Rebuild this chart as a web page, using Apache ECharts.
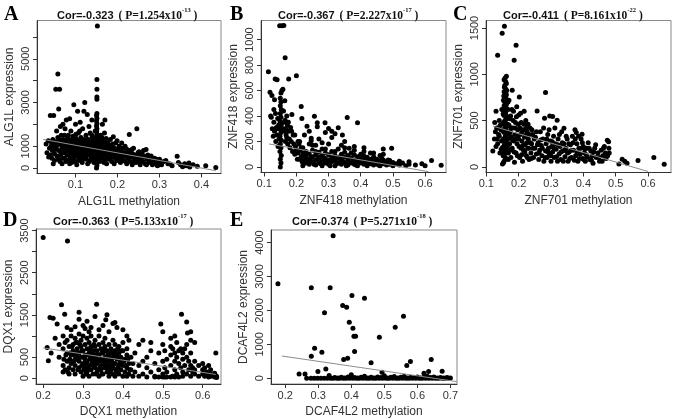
<!DOCTYPE html>
<html><head><meta charset="utf-8">
<script src="https://cdn.jsdelivr.net/npm/echarts@6/dist/echarts.min.js"></script>
<style>html,body{margin:0;padding:0;background:#fff}#c{width:677px;height:419px}</style>
</head><body><div id="c"></div>
<script>
// ---------- DATA ----------
const panelLetters = ['A','B','C','D','E'];
const genes = ['ALG1L','ZNF418','ZNF701','DQX1','DCAF4L2'];
const corValues = ['-0.323','-0.367','-0.411','-0.363','-0.374'];
const pMantissa = ['1.254','2.227','8.161','5.133','5.271'];
const pExponent = ['-13','-17','-22','-17','-18'];

const xTicksA = [0.1,0.2,0.3,0.4];
const yTicksA = [0,1000,2000,3000,4000,5000,6000];
const yLabelsA = [0,1000,3000,5000];
const xTicksB = [0.1,0.2,0.3,0.4,0.5,0.6];
const yTicksB = [0,200,400,600,800,1000];
const xTicksC = [0.1,0.2,0.3,0.4,0.5,0.6];
const yTicksC = [0,500,1000,1500];
const xTicksD = [0.2,0.3,0.4,0.5,0.6];
const yTicksD = [0,500,1000,1500,2000,2500,3000,3500];
const yLabelsD = [0,500,1500,2500,3500];
const xTicksE = [0.2,0.3,0.4,0.5,0.6,0.7];
const yTicksE = [0,1000,2000,3000,4000];

const fitA = [[0.023,1310],[0.434,-120]];
const fitB = [[0.115,180],[0.61,-37]];
const fitC = [[0.12,440],[0.60,-50]];
const fitD = [[0.20,720],[0.633,90]];
const fitE = [[0.19,655],[0.72,-100]];

const pointsA = [
[0.030,1100],[0.032,700],[0.035,1250],[0.038,900],[0.040,600],[0.040,2400],[0.042,1000],[0.044,450],[0.045,800],[0.046,1300],[0.048,2400],[0.048,1000],[0.050,650],[0.050,350],[0.052,1200],[0.053,3600],[0.054,900],[0.055,1700],[0.056,550],[0.058,1400],[0.058,4300],[0.060,2700],[0.062,3600],[0.060,800],[0.062,1100],[0.063,300],[0.064,1900],[0.065,600],[0.066,1500],[0.068,950],[0.068,200],[0.070,1300],[0.070,2000],[0.072,700],[0.073,1100],[0.074,450],[0.075,1800],[0.076,850],[0.078,1250],[0.078,2200],[0.080,600],[0.080,1000],[0.082,350],[0.083,1500],[0.084,800],[0.085,1150],[0.086,2250],[0.087,500],[0.088,950],[0.089,1700],[0.090,700],[0.090,1300],[0.091,250],[0.092,1050],[0.093,600],[0.094,1450],[0.095,850],[0.096,2900],[0.097,400],[0.098,1150],[0.099,750],[0.100,2000],[0.100,1000],[0.101,550],[0.102,1350],[0.103,150],[0.104,900],[0.105,1200],[0.105,2600],[0.106,650],[0.107,1600],[0.108,1000],[0.109,450],[0.110,1250],[0.110,800],[0.111,2100],[0.112,600],[0.113,1400],[0.114,950],[0.115,350],[0.116,1100],[0.117,1800],[0.118,750],[0.119,500],[0.120,1300],[0.120,2600],[0.121,900],[0.122,3000],[0.123,650],[0.124,1150],[0.125,1500],[0.126,400],[0.127,850],[0.128,2450],[0.128,1050],[0.129,600],[0.130,1300],[0.131,750],[0.132,1900],[0.133,300],[0.134,1000],[0.135,1600],[0.136,550],[0.137,1200],[0.138,850],[0.139,2200],[0.140,700],[0.140,1400],[0.141,450],[0.142,1050],[0.143,900],[0.144,250],[0.145,1250],[0.146,650],[0.147,1700],[0.148,800],
[0.150,0],[0.151,120],[0.150,240],[0.151,360],[0.150,480],[0.151,600],[0.150,720],[0.151,840],[0.150,960],[0.151,1080],[0.150,1200],[0.151,1320],[0.150,1440],[0.151,1560],[0.150,1680],[0.151,1800],[0.150,1920],[0.151,2040],[0.150,2160],[0.151,2280],[0.150,2400],[0.151,2500],[0.151,3150],[0.151,3250],[0.151,3600],[0.151,4050],[0.152,6500],
[0.155,1000],[0.156,600],[0.157,1300],[0.158,300],[0.159,850],[0.160,1500],[0.161,700],[0.162,1100],[0.163,450],[0.164,2000],[0.165,900],[0.166,1250],[0.167,550],[0.168,800],[0.169,1600],[0.170,2200],[0.170,350],[0.171,1000],[0.172,700],[0.173,1350],[0.174,200],[0.175,900],[0.176,550],[0.177,1150],[0.178,750],[0.180,400],[0.181,1050],[0.182,650],[0.183,1300],[0.185,850],[0.186,300],[0.187,1000],[0.188,550],[0.190,1430],[0.190,750],[0.192,200],[0.193,900],[0.195,450],[0.196,1150],[0.197,650],[0.199,1250],[0.200,850],
[0.202,400],[0.204,1000],[0.205,650],[0.207,250],[0.208,800],[0.210,1150],[0.212,500],[0.213,900],[0.215,350],[0.217,700],[0.218,1000],[0.220,550],[0.222,200],[0.223,850],[0.225,450],[0.227,650],[0.228,1540],[0.230,300],[0.231,800],[0.233,500],[0.235,150],[0.236,650],[0.238,900],[0.240,400],[0.242,600],[0.244,250],[0.246,1800],[0.247,500],[0.249,700],[0.250,350],[0.252,550],[0.254,150],[0.256,450],[0.258,650],[0.260,300],[0.262,800],[0.264,500],[0.266,200],[0.268,850],[0.270,400],[0.272,600],[0.275,250],[0.277,350],[0.280,550],[0.283,150],[0.285,300],[0.288,450],[0.290,200],[0.292,350],[0.295,100],[0.297,250],
[0.300,400],[0.305,150],[0.310,300],[0.320,200],[0.342,540],[0.330,100],[0.345,250],[0.360,200],[0.365,100],[0.370,230],[0.372,50],[0.380,150],[0.390,80],[0.410,100],[0.434,20],
[0.036,500],[0.043,1150],[0.047,200],[0.051,850],[0.057,1050],[0.059,400],[0.061,1300],[0.064,750],[0.067,1150],[0.069,450],[0.071,900],[0.074,1500],[0.077,300],[0.079,650],[0.081,1350],[0.084,1050],[0.086,200],[0.088,600],[0.091,1150],[0.093,400],[0.095,1250],[0.097,900],[0.099,300],[0.101,1550],[0.103,700],[0.106,1050],[0.108,350],[0.110,1700],[0.112,950],[0.114,650],[0.116,250],[0.118,1250],[0.121,450],[0.123,1000],[0.125,750],[0.127,1300],[0.129,200],[0.131,1100],[0.133,650],[0.135,900],[0.137,400],[0.139,1500],[0.141,800],[0.143,1150],[0.145,500],[0.147,1000],[0.149,300],[0.154,750],[0.156,1200],[0.158,450],[0.161,950],[0.163,1400],[0.166,650],[0.168,250],[0.171,1200],[0.173,500],[0.176,1000],[0.179,600],[0.182,900],[0.184,450],[0.187,750],[0.189,1100],[0.191,550],[0.194,800],[0.198,350],[0.201,600],[0.206,900],[0.209,450],[0.214,700],[0.219,300],[0.224,650],[0.229,500],[0.234,850],[0.239,250],[0.245,550],[0.251,750],[0.257,300],[0.263,550],[0.269,150],[0.274,450],[0.281,350],[0.287,250],[0.293,400],[0.299,150],[0.306,250],[0.315,350],[0.325,180],[0.350,150],[0.355,60],[0.362,120]
];

const pointsB = [
[0.150,0],[0.152,30],[0.150,60],[0.153,90],[0.149,120],[0.152,150],[0.150,180],[0.153,210],[0.149,240],[0.152,270],[0.150,300],[0.153,330],[0.149,360],[0.152,390],[0.150,420],[0.153,450],[0.150,480],[0.152,510],[0.150,540],[0.152,580],[0.155,600],[0.158,610],[0.148,1108],[0.155,1108],[0.161,1111],
[0.113,747],[0.118,587],[0.124,560],[0.132,527],[0.134,690],[0.140,685],[0.120,400],[0.122,390],[0.125,300],[0.128,240],[0.130,350],[0.132,280],[0.135,420],[0.136,200],[0.138,310],[0.140,250],[0.142,380],[0.143,160],[0.145,330],[0.146,220],[0.160,440],[0.162,350],[0.163,280],[0.164,520],[0.165,858],[0.165,367],[0.166,200],[0.167,300],[0.168,250],[0.170,400],[0.172,330],[0.173,180],[0.175,280],[0.176,690],[0.178,220],[0.180,150],[0.182,310],[0.184,200],[0.186,411],[0.188,120],[0.190,250],[0.192,180],[0.195,100],[0.197,160],[0.200,716],[0.200,130],[0.203,60],[0.205,110],[0.208,180],[0.210,60],[0.212,130],[0.215,475],[0.215,80],[0.217,380],[0.218,40],[0.220,110],
[0.210,200],[0.225,250],[0.240,280],[0.250,170],[0.270,220],[0.280,190],[0.310,280],[0.340,170],
[0.220,10],[0.220,50],[0.220,90],[0.220,150],[0.230,30],[0.230,70],[0.230,120],[0.233,320],[0.240,20],[0.240,60],[0.240,100],[0.240,180],[0.246,225],[0.246,205],[0.250,40],[0.250,80],[0.250,130],[0.256,398],[0.260,15],[0.260,55],[0.260,95],[0.260,170],[0.265,346],[0.265,315],[0.270,35],[0.270,75],[0.270,115],[0.280,10],[0.280,50],[0.280,90],[0.280,140],[0.289,346],[0.290,30],[0.290,65],[0.290,110],[0.290,270],[0.300,20],[0.300,55],[0.300,95],[0.300,302],[0.300,180],[0.310,40],[0.310,75],[0.310,120],[0.310,230],[0.320,10],[0.320,50],[0.320,90],[0.320,260],[0.330,30],[0.330,65],[0.330,307],[0.330,140],[0.340,20],[0.340,55],[0.340,100],[0.343,250],[0.350,35],[0.350,75],[0.350,115],[0.350,200],[0.358,388],[0.360,15],[0.360,50],[0.360,90],[0.364,147],[0.370,30],[0.370,70],[0.370,110],[0.380,20],[0.380,55],[0.380,95],[0.380,130],[0.390,10],[0.390,40],[0.390,80],[0.390,346],[0.400,30],[0.400,65],[0.400,100],[0.410,20],[0.410,50],[0.410,85],[0.410,120],[0.420,10],[0.420,40],[0.420,75],[0.430,25],[0.430,60],[0.430,110],[0.440,15],[0.440,45],[0.440,80],[0.450,30],[0.450,60],[0.460,10],[0.460,45],[0.460,90],[0.470,25],[0.470,55],[0.470,140],[0.480,15],[0.480,40],[0.490,20],[0.490,50],[0.496,147],[0.500,10],[0.500,35],[0.510,25],[0.520,15],[0.520,45],[0.530,30],[0.540,10],[0.550,40],[0.550,20],[0.570,15],[0.590,25],[0.600,10],[0.620,50],[0.650,12],
[0.225,30],[0.235,50],[0.245,70],[0.255,20],[0.265,60],[0.275,25],[0.285,70],[0.295,40],[0.305,10],[0.315,60],[0.325,25],[0.335,80],[0.345,40],[0.355,10],[0.365,70],[0.375,45],[0.385,15],[0.395,60],[0.405,35],[0.415,70],[0.425,45],[0.435,30],[0.445,60],[0.455,15],[0.465,70],[0.475,35],[0.485,55],[0.230,95],[0.260,120],[0.290,140],[0.320,120],[0.350,150],[0.380,160],[0.410,150],[0.440,110],[0.470,100],[0.215,150],[0.205,200],[0.195,250],[0.185,280],[0.175,350],[0.170,230],[0.160,300],[0.140,300],[0.130,450]
];

const pointsC = [
[0.150,30],[0.155,60],[0.160,90],[0.152,120],[0.158,150],[0.163,180],[0.150,210],[0.156,240],[0.161,270],[0.153,300],[0.159,330],[0.164,360],[0.151,390],[0.157,420],[0.162,450],[0.154,480],[0.160,510],[0.165,540],[0.152,570],[0.158,600],[0.163,630],[0.155,660],[0.160,690],[0.153,720],[0.158,750],[0.162,780],[0.155,810],[0.160,840],[0.157,880],[0.160,920],[0.158,960],[0.162,980],[0.156,1520],[0.149,1442],[0.192,1313],[0.135,1205],[0.186,1151],
[0.120,170],[0.125,300],[0.130,600],[0.132,420],[0.135,250],[0.138,350],[0.140,500],[0.142,150],[0.145,400],[0.147,280],[0.148,620],[0.166,300],[0.168,150],[0.170,450],[0.170,720],[0.172,250],[0.174,380],[0.175,550],[0.176,100],[0.178,320],[0.180,827],[0.180,200],[0.182,420],[0.184,600],[0.185,280],[0.187,50],[0.188,350],[0.190,480],[0.192,150],[0.194,650],[0.195,250],[0.197,400],[0.200,300],[0.200,560],[0.202,755],[0.203,100],[0.205,350],[0.207,200],[0.208,480],[0.210,280],[0.212,60],[0.214,400],[0.215,180],[0.217,600],[0.218,320],[0.220,240],[0.222,500],[0.224,120],[0.226,380],[0.228,200],[0.230,300],[0.232,80],[0.235,420],[0.238,150],[0.240,250],[0.243,350],[0.246,100],
[0.250,200],[0.252,320],[0.255,140],[0.257,604],[0.260,260],[0.262,80],[0.265,180],[0.267,380],[0.270,230],[0.272,120],[0.275,300],[0.278,60],[0.280,525],[0.283,802],[0.283,170],[0.285,250],[0.288,100],[0.290,350],[0.292,200],[0.295,140],[0.296,550],[0.298,280],[0.300,60],[0.302,220],[0.305,543],[0.305,160],[0.308,330],[0.310,100],[0.313,250],[0.316,190],[0.319,503],[0.320,60],[0.322,300],[0.325,140],[0.328,220],[0.330,80],[0.333,380],[0.336,170],[0.340,417],[0.340,250],[0.343,110],[0.346,200],[0.350,300],[0.353,60],[0.356,160],[0.360,240],[0.363,100],[0.366,330],[0.370,180],[0.374,400],[0.376,120],[0.378,370],[0.380,250],[0.383,60],[0.386,200],[0.390,140],[0.393,300],[0.396,352],[0.398,90],[0.400,220],[0.403,150],[0.406,60],[0.410,201],[0.412,110],[0.415,260],[0.420,80],[0.423,170],[0.427,120],[0.430,40],[0.435,200],[0.440,100],[0.445,150],[0.450,60],[0.455,180],[0.460,120],[0.465,220],[0.470,90],[0.474,288],[0.478,270],[0.480,150],[0.510,30],[0.520,83],[0.528,60],[0.535,40],[0.569,68],[0.618,100],[0.650,29],
[0.153,45],[0.158,105],[0.151,165],[0.160,195],[0.155,225],[0.163,255],[0.152,285],[0.158,315],[0.161,345],[0.154,375],[0.159,405],[0.164,435],[0.151,465],[0.157,495],[0.162,525],[0.155,555],[0.160,585],[0.153,615],[0.158,645],[0.162,675],[0.156,705],[0.161,735],[0.154,765],[0.159,795],[0.163,825],[0.156,860],[0.162,900],[0.155,940],[0.166,460],[0.167,620],[0.168,380],[0.166,220],[0.167,700],[0.168,80],
[0.171,350],[0.173,520],[0.175,180],[0.177,420],[0.179,620],[0.181,290],[0.183,500],[0.186,160],[0.189,420],[0.191,300],[0.193,540],[0.196,120],[0.198,340],[0.199,460],[0.201,220],[0.204,420],[0.206,580],[0.209,130],[0.211,380],[0.213,230],[0.216,460],[0.219,160],[0.221,340],[0.223,420],[0.225,260],[0.227,100],[0.229,460],[0.231,200],[0.233,350],[0.236,260],[0.239,90],[0.241,400],[0.244,200],[0.248,300],[0.140,330],[0.143,450],[0.146,190],[0.137,420],[0.133,300],[0.128,380],[0.130,220],[0.126,480],
[0.255,380],[0.258,240],[0.263,150],[0.268,290],[0.273,200],[0.277,420],[0.282,100],[0.287,300],[0.291,160],[0.294,400],[0.299,120],[0.304,270],[0.309,200],[0.312,420],[0.317,110],[0.321,240],[0.326,350],[0.331,160],[0.335,260],[0.338,60],[0.342,180],[0.347,330],[0.351,150],[0.355,250],[0.358,90],[0.362,180],[0.368,260],[0.372,70],[0.375,300],[0.381,150],[0.385,330],[0.388,90],[0.392,200],[0.397,260],[0.401,80],[0.405,190],[0.409,130],[0.418,200],[0.425,70],[0.432,160],[0.438,240],[0.448,100],[0.458,60],[0.462,200],[0.468,150],[0.475,120],[0.479,200]
];

const pointsD = [
[0.200,3337],[0.261,3250],
[0.217,1440],[0.225,1424],[0.235,1283],[0.246,1739],[0.254,1519],[0.260,1200],[0.270,1150],[0.280,1220],[0.290,1566],[0.290,1400],[0.300,1250],[0.305,1180],[0.310,1350],[0.315,1100],[0.320,1200],[0.330,1464],[0.334,1755],[0.340,1150],[0.350,1250],[0.357,1385],[0.360,1503],[0.365,1100],[0.375,1300],[0.380,1322],[0.385,1200],[0.400,1150],[0.410,1000],[0.450,900],[0.470,850],[0.495,1283],[0.500,1100],[0.520,950],[0.530,1000],[0.547,1519],[0.560,1330],[0.562,1070],[0.570,900],[0.580,850],[0.633,598],
[0.210,730],[0.213,417],[0.220,600],[0.230,950],[0.240,800],[0.240,500],[0.250,1000],[0.250,700],[0.250,300],[0.250,150],[0.255,850],[0.255,200],[0.260,600],[0.260,400],[0.260,900],[0.265,750],[0.265,250],[0.265,100],[0.270,1000],[0.270,550],[0.270,350],[0.275,800],[0.275,200],[0.275,650],[0.280,450],[0.280,950],[0.280,100],[0.280,300],[0.285,700],[0.285,550],[0.285,850],[0.290,250],[0.290,1050],[0.290,400],[0.290,600],[0.295,150],[0.295,750],[0.295,500],[0.295,900],[0.300,350],[0.300,650],[0.300,50],[0.300,1000],[0.305,800],[0.305,450],[0.305,250],[0.305,550],[0.310,150],[0.310,700],[0.310,950],[0.310,400],[0.315,600],[0.315,300],[0.315,850],[0.315,50],[0.320,500],[0.320,200],[0.320,750],[0.320,1000],[0.325,400],[0.325,650],[0.325,100],[0.325,300],[0.330,900],[0.330,550],[0.330,250],[0.330,750],[0.335,450],[0.335,150],[0.335,650],[0.335,350],[0.340,800],[0.340,50],[0.340,550],[0.340,1000],[0.345,300],[0.345,700],[0.345,450],[0.345,200],[0.350,600],[0.350,100],[0.350,850],[0.350,400],[0.355,250],[0.355,500],[0.355,750],[0.355,950],[0.360,350],[0.360,650],[0.360,150],[0.360,450],[0.365,550],[0.365,50],[0.365,800],[0.365,300],[0.370,400],[0.370,700],[0.370,200],[0.370,600],[0.375,100],[0.375,900],[0.375,500],[0.375,250],[0.380,650],[0.380,350],[0.380,800],[0.380,50],[0.385,450],[0.385,150],[0.385,550],[0.390,300],[0.390,750],[0.390,100],[0.390,600],[0.395,400],[0.395,200],[0.395,500],[0.400,850],[0.400,50],[0.400,650],[0.400,300],[0.405,150],[0.405,450],[0.410,700],[0.410,250],[0.410,550],[0.410,50],[0.415,350],[0.415,100],[0.415,900],[0.420,500],[0.420,200],[0.425,50],[0.425,350],[0.430,150],[0.430,600],[0.440,50],[0.440,300],[0.440,800],[0.450,100],[0.450,400],[0.460,30],[0.460,250],[0.460,500],[0.470,150],[0.470,650],[0.480,30],[0.480,350],[0.480,50],[0.490,30],[0.490,200],[0.490,600],[0.500,30],[0.500,400],[0.500,100],[0.500,800],[0.505,30],[0.505,650],[0.505,250],[0.510,30],[0.510,450],[0.510,150],[0.520,30],[0.520,550],[0.520,300],[0.520,750],[0.525,50],[0.525,700],[0.530,30],[0.530,200],[0.530,600],[0.530,400],[0.535,100],[0.535,500],[0.535,850],[0.540,30],[0.540,350],[0.540,650],[0.545,250],[0.545,700],[0.550,50],[0.550,450],[0.550,150],[0.550,600],[0.555,300],[0.555,700],[0.560,100],[0.560,500],[0.560,800],[0.565,200],[0.565,400],[0.570,50],[0.570,300],[0.570,600],[0.570,1100],[0.575,250],[0.575,150],[0.580,400],[0.580,100],[0.580,200],[0.590,300],[0.590,50],[0.600,200],[0.600,100],[0.600,350],[0.605,50],[0.605,250],[0.610,150],[0.610,80],[0.615,30],[0.615,300],[0.620,100],[0.620,50],[0.620,200],[0.625,60],[0.630,30],[0.630,120],[0.635,50],[0.635,20],
[0.252,450],[0.257,550],[0.262,150],[0.267,450],[0.272,750],[0.277,400],[0.282,600],[0.287,200],[0.292,800],[0.297,300],[0.302,500],[0.307,100],[0.312,550],[0.317,450],[0.322,350],[0.327,800],[0.332,100],[0.337,550],[0.342,250],[0.347,600],[0.352,300],[0.357,400],[0.362,550],[0.367,150],[0.372,450],[0.377,350],[0.382,550],[0.387,250],[0.392,450],[0.397,650],[0.402,400],[0.407,300],[0.412,450],[0.417,200],[0.297,650],[0.302,200],[0.312,250],[0.322,600],[0.332,350],[0.342,400],[0.352,700],[0.362,250],[0.372,300],[0.382,200],[0.392,350],[0.327,500],[0.337,200],[0.347,100],[0.357,650],[0.367,450],[0.377,600],[0.387,700],[0.317,700],[0.307,350],[0.287,450],[0.277,550],[0.267,600],[0.282,850]
];

const pointsE = [
[0.178,2785],[0.279,2667],[0.336,2667],[0.345,4200],[0.402,2440],[0.440,2360],[0.374,2145],[0.386,2096],[0.319,1930],[0.394,1653],[0.405,1476],[0.408,1240],[0.413,1240],[0.485,1210],[0.533,1505],[0.558,1830],
[0.289,886],[0.311,767],[0.279,650],[0.410,787],[0.377,551],[0.389,590],[0.460,453],[0.579,492],[0.568,374],[0.642,551],[0.299,197],[0.323,275],[0.242,128],[0.260,128],[0.634,197],[0.675,207],[0.493,177],[0.620,150],
[0.265,0],[0.278,0],[0.288,0],[0.298,0],[0.308,0],[0.318,0],[0.328,0],[0.333,80],[0.338,0],[0.345,0],[0.350,20],[0.355,0],[0.360,10],[0.365,0],[0.370,30],[0.375,0],[0.380,10],[0.385,0],[0.390,40],[0.395,0],[0.400,100],[0.405,0],[0.410,20],[0.415,0],[0.420,10],[0.425,0],[0.430,30],[0.435,0],[0.440,60],[0.445,0],[0.450,10],[0.455,0],[0.460,30],[0.465,0],[0.470,10],[0.475,0],[0.480,40],[0.485,0],[0.490,20],[0.495,0],[0.500,70],[0.505,0],[0.510,10],[0.515,0],[0.520,30],[0.525,0],[0.530,50],[0.535,0],[0.540,10],[0.545,0],[0.550,30],[0.555,0],[0.560,60],[0.565,0],[0.570,10],[0.575,0],[0.580,30],[0.585,0],[0.590,20],[0.595,0],[0.600,40],[0.605,0],[0.610,10],[0.615,0],[0.620,30],[0.625,0],[0.630,60],[0.635,0],[0.640,20],[0.645,0],[0.650,40],[0.655,0],[0.660,10],[0.665,0],[0.670,20],[0.675,0],[0.680,10],[0.685,0],[0.690,20],[0.695,0],[0.700,10]
];

// ---------- LAYOUT ----------
const panels = [
 {pts:pointsA, fit:fitA, xt:xTicksA, yt:yTicksA, yl:yLabelsA, grid:{left:37,top:20.5,width:184,height:153}, x:[0.0083,0.4464], y:[-250,6750], title:[57,7], letter:[4,5]},
 {pts:pointsB, fit:fitB, xt:xTicksB, yt:yTicksB, yl:yTicksB, grid:{left:261,top:20.5,width:185,height:152}, x:[0.09,0.665], y:[-44,1150], title:[278,7], letter:[230,5]},
 {pts:pointsC, fit:fitC, xt:xTicksC, yt:yTicksC, yl:yTicksC, grid:{left:486,top:20.5,width:185,height:152}, x:[0.099,0.671], y:[-61,1581], title:[503,7], letter:[453,5]},
 {pts:pointsD, fit:fitD, xt:xTicksD, yt:yTicksD, yl:yLabelsD, grid:{left:36,top:229,width:185,height:155.5}, x:[0.182,0.646], y:[-136,3536], title:[53,213], letter:[3,211]},
 {pts:pointsE, fit:fitE, xt:xTicksE, yt:yTicksE, yl:yTicksE, grid:{left:271,top:230,width:186,height:154}, x:[0.157,0.72], y:[-170,4370], title:[292,213], letter:[230,211]}
];

const grids=[], xAxes=[], yAxes=[], series=[], titles=[];
panels.forEach((p,i)=>{
  grids.push(Object.assign({show:true,borderColor:'#8a8a8a',borderWidth:1,backgroundColor:'transparent'},p.grid));
  xAxes.push({type:'value',gridIndex:i,min:p.x[0],max:p.x[1],
    name:genes[i]+' methylation',nameLocation:'middle',nameGap:22,
    nameTextStyle:{fontFamily:'Liberation Sans',fontSize:12,color:'#333'},
    splitLine:{show:false},
    axisLine:{show:true,onZero:false,lineStyle:{color:'#333',width:1}},
    axisTick:{show:true,length:4,customValues:p.xt,lineStyle:{color:'#333'}},
    axisLabel:{customValues:p.xt,margin:6,fontFamily:'Liberation Sans',fontSize:11,color:'#333',formatter:v=>String(+(+v).toFixed(2))}
  });
  yAxes.push({type:'value',gridIndex:i,min:p.y[0],max:p.y[1],
    name:genes[i]+' expression',nameLocation:'middle',nameGap:21,nameRotate:90,
    nameTextStyle:{fontFamily:'Liberation Sans',fontSize:12,color:'#333'},
    splitLine:{show:false},
    axisLine:{show:true,onZero:false,lineStyle:{color:'#333',width:1}},
    axisTick:{show:true,length:4,customValues:p.yt,lineStyle:{color:'#333'}},
    axisLabel:{customValues:p.yl,rotate:90,margin:6,fontFamily:'Liberation Sans',fontSize:11,color:'#333',formatter:v=>String(Math.round(v))}
  });
  series.push({type:'scatter',xAxisIndex:i,yAxisIndex:i,data:p.pts,symbolSize:5,itemStyle:{color:'#000',opacity:1},silent:true,animation:false});
  series.push({type:'line',xAxisIndex:i,yAxisIndex:i,data:p.fit,symbol:'none',lineStyle:{color:'#8c8c8c',width:1},z:5,silent:true,animation:false});
  titles.push({left:p.title[0],top:p.title[1],padding:0,
    text:'{a|Cor='+corValues[i]+'} {b|( P='+pMantissa[i]+'x10}{s|'+pExponent[i]+'}{b| )}',
    textStyle:{rich:{
      a:{fontFamily:'Liberation Sans',fontWeight:'bold',fontSize:11,color:'#111'},
      b:{fontFamily:'Liberation Serif',fontWeight:'bold',fontSize:11.5,color:'#111'},
      s:{fontFamily:'Liberation Serif',fontWeight:'bold',fontSize:6.5,color:'#111',verticalAlign:'top',padding:[0,0,5,0]}
    }}});
  titles.push({left:p.letter[0],top:p.letter[1],padding:0,text:panelLetters[i],
    textStyle:{fontFamily:'Liberation Serif',fontWeight:'bold',fontSize:20,color:'#000'}});
});

const chart = echarts.init(document.getElementById('c'),null,{renderer:'canvas'});
chart.setOption({animation:false,title:titles,grid:grids,xAxis:xAxes,yAxis:yAxes,series:series});
</script></body></html>
